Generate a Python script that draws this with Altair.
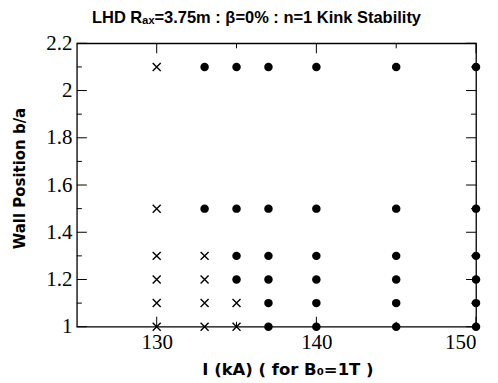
import altair as alt
import pandas as pd

# Data
unstable_I = [130, 130, 130, 133, 130, 133, 130, 133, 135, 130, 133, 135]
unstable_b = [2.1, 1.5, 1.3, 1.3, 1.2, 1.2, 1.1, 1.1, 1.1, 1.0, 1.0, 1.0]
stable_rows = {
    2.1: [133, 135, 137, 140, 145, 150],
    1.5: [133, 135, 137, 140, 145, 150],
    1.3: [135, 137, 140, 145, 150],
    1.2: [135, 137, 140, 145, 150],
    1.1: [137, 140, 145, 150],
    1.0: [137, 140, 145, 150],
}
x_major = [130, 140, 150]
x_minor = [135, 145]
y_major = [1.0, 1.2, 1.4, 1.6, 1.8, 2.0, 2.2]
y_minor = [1.1, 1.3, 1.5, 1.7, 1.9, 2.1]

W, H = 400, 284
stable_I = [i for b, lst in stable_rows.items() for i in lst]
stable_b = [b for b, lst in stable_rows.items() for i in lst]

df_u = pd.DataFrame({"I": unstable_I, "b": unstable_b})
df_s = pd.DataFrame({"I": stable_I, "b": stable_b})

xs = alt.Scale(domain=[125, 150], nice=False, zero=False)
ys = alt.Scale(domain=[1.0, 2.2], nice=False, zero=False)

label_font = "Liberation Serif"
title_font = "DejaVu Sans"

x_enc = alt.X("I:Q", scale=xs, axis=alt.Axis(
    values=x_major, ticks=False, domain=False, grid=False,
    labelFont=label_font, labelFontSize=21, labelColor="black", labelPadding=5,
    title="I (kA) ( for B\u2080=1T )", titleFont=title_font, titleFontSize=16.5,
    titleFontWeight="bold", titleColor="black", titleX=211, titleY=48,
    titleBaseline="alphabetic", titleAnchor="middle"))
y_enc = alt.Y("b:Q", scale=ys, axis=alt.Axis(
    values=y_major, format=".1~f", ticks=False, domain=False, grid=False,
    labelFont=label_font, labelFontSize=21, labelColor="black", labelPadding=5,
    labelBaseline="middle",
    title="Wall Position b/a", titleFont=title_font, titleFontSize=15,
    titleFontWeight="bold", titleColor="black", titleX=-57, titleY=135,
    titleBaseline="middle", titleAngle=-90, titleAnchor="middle"))

stable = alt.Chart(df_s).mark_point(
    shape="circle", filled=True, color="black", size=72, opacity=1
).encode(x=x_enc, y=y_enc)

cross_path = "M-1,-1L1,1M-1,1L1,-1"
unstable = alt.Chart(df_u).mark_point(
    shape=cross_path, filled=False, color="black", size=64, strokeWidth=1.4, opacity=1
).encode(x="I:Q", y="b:Q")


def xticks(vals, length):
    d = pd.DataFrame({"I": vals})
    bot = alt.Chart(d).mark_rule(color="black", strokeWidth=1).encode(
        x=alt.X("I:Q", scale=xs), y=alt.value(H), y2=alt.value(H - length))
    top = alt.Chart(d).mark_rule(color="black", strokeWidth=1).encode(
        x=alt.X("I:Q", scale=xs), y=alt.value(0), y2=alt.value(length))
    return [bot, top]


def yticks(vals, length):
    d = pd.DataFrame({"b": vals})
    left = alt.Chart(d).mark_rule(color="black", strokeWidth=1).encode(
        y=alt.Y("b:Q", scale=ys), x=alt.value(0), x2=alt.value(length))
    right = alt.Chart(d).mark_rule(color="black", strokeWidth=1).encode(
        y=alt.Y("b:Q", scale=ys), x=alt.value(W), x2=alt.value(W - length))
    return [left, right]


tick_layers = xticks(x_major, 10) + xticks(x_minor, 5) + yticks(y_major, 10) + yticks(y_minor, 5)

chart = alt.layer(stable, unstable, *tick_layers).properties(
    width=W, height=H,
    title=alt.TitleParams(
        text="LHD R\u2090\u2093=3.75m : \u03b2=0% : n=1 Kink Stability",
        font="Liberation Sans", fontSize=16.5, fontWeight="bold", color="black",
        anchor="middle", dx=-20, offset=6),
    autosize=alt.AutoSizeParams(type="none"),
    padding={"left": 69, "top": 35, "right": 14, "bottom": 56},
).configure_view(stroke="black", strokeWidth=1.3)

chart.save("out.html", embed_options={"renderer": "svg", "actions": False})
